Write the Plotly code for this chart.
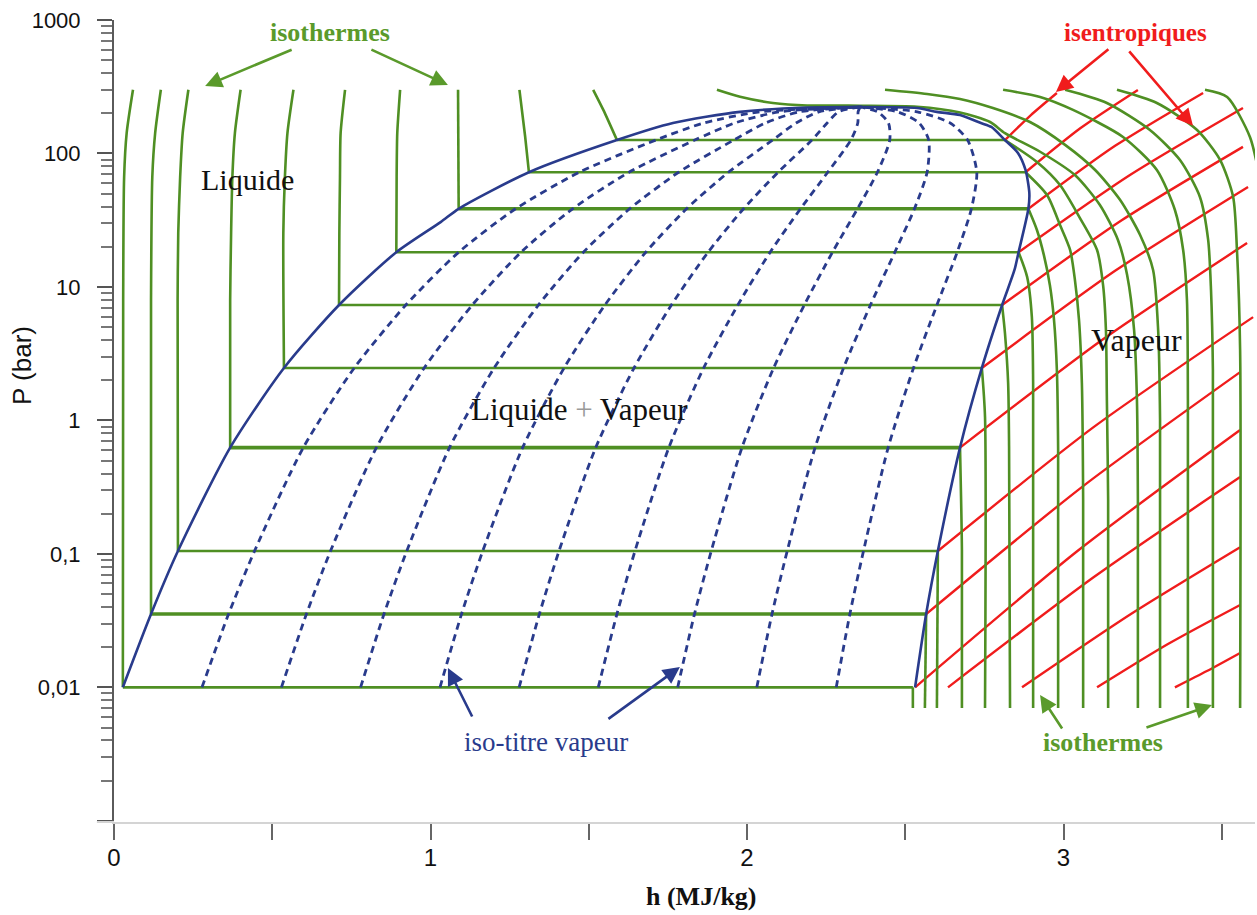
import numpy as np
import plotly.graph_objects as go

GREEN = "#4f8f23"
BLUE = "#293b8c"
RED = "#f01c1c"
SERIF = "Liberation Serif"
SANS = "Liberation Sans"

# ---------------- data (h in MJ/kg, P in bar) ----------------
dome_liq_h = [0.028, 0.117, 0.202, 0.367, 0.537, 0.711, 0.892, 1.032, 1.089, 1.311, 1.589, 1.766, 1.978, 2.190, 2.357]
dome_liq_P = [0.01, 0.0354, 0.105, 0.625, 2.47, 7.32, 18.2, 30.6, 38.5, 72.3, 126, 169, 205, 221, 223]
dome_vap_h = [2.357, 2.537, 2.600, 2.673, 2.739, 2.772, 2.815, 2.856, 2.880, 2.892, 2.889, 2.858, 2.845, 2.806, 2.742, 2.673, 2.603, 2.566, 2.531]
dome_vap_P = [223, 219, 205, 194, 169, 158, 126, 101, 75.2, 50.6, 38.5, 18.2, 13.4, 7.32, 2.47, 0.625, 0.105, 0.0354, 0.01]

plateau_P = [0.01, 0.0354, 0.105, 0.625, 2.47, 7.32, 18.2, 38.5, 72.3, 126]
plateau_hf = [0.028, 0.117, 0.202, 0.367, 0.537, 0.711, 0.892, 1.089, 1.311, 1.589]
plateau_hg = [2.524, 2.566, 2.603, 2.673, 2.742, 2.806, 2.858, 2.889, 2.880, 2.815]

quality_P = [0.01, 0.0354, 0.105, 0.625, 2.47, 7.32, 18.2, 38.5, 72.3, 126, 169, 205, 223]
quality_h = [
    [0.278, 0.362, 0.444, 0.598, 0.759, 0.922, 1.089, 1.269, 1.470, 1.712, 1.863, 2.040, 2.357],
    [0.529, 0.608, 0.684, 0.829, 0.980, 1.132, 1.286, 1.449, 1.627, 1.835, 1.961, 2.102, 2.357],
    [0.779, 0.853, 0.925, 1.060, 1.201, 1.341, 1.483, 1.629, 1.784, 1.958, 2.058, 2.165, 2.357],
    [1.030, 1.098, 1.165, 1.291, 1.422, 1.551, 1.680, 1.809, 1.941, 2.081, 2.155, 2.227, 2.357],
    [1.280, 1.344, 1.406, 1.522, 1.643, 1.761, 1.877, 1.989, 2.098, 2.205, 2.253, 2.289, 2.357],
    [1.530, 1.589, 1.646, 1.753, 1.863, 1.971, 2.073, 2.169, 2.255, 2.328, 2.350, 2.351, 2.357],
    [1.781, 1.834, 1.887, 1.984, 2.084, 2.181, 2.270, 2.349, 2.412, 2.451, 2.447, 2.413, 2.357],
    [2.031, 2.079, 2.127, 2.215, 2.305, 2.390, 2.467, 2.529, 2.569, 2.574, 2.544, 2.476, 2.357],
    [2.282, 2.325, 2.368, 2.446, 2.526, 2.600, 2.664, 2.709, 2.726, 2.697, 2.642, 2.538, 2.357],
]

liq_iso_h = [
    [0.060, 0.040, 0.032, 0.029, 0.028],
    [0.148, 0.130, 0.121, 0.117, 0.117],
    [0.235, 0.217, 0.209, 0.203, 0.201, 0.202],
    [0.400, 0.382, 0.374, 0.370, 0.367, 0.367],
    [0.567, 0.548, 0.540, 0.535, 0.537],
    [0.730, 0.716, 0.714, 0.712, 0.711],
    [0.904, 0.895, 0.893, 0.892],
    [1.087, 1.089],
    [1.281, 1.299, 1.311],
    [1.514, 1.546, 1.589],
]
liq_iso_P = [
    [300, 142, 66.6, 7.98, 0.01],
    [300, 142, 66.6, 7.98, 0.0354],
    [300, 142, 66.6, 25.4, 7.98, 0.105],
    [300, 142, 66.6, 25.4, 7.98, 0.625],
    [300, 142, 66.6, 25.4, 2.47],
    [300, 142, 66.6, 25.4, 7.32],
    [300, 142, 66.6, 18.2],
    [300, 38.5],
    [300, 134, 72.3],
    [300, 212, 126],
]

vap_iso_h = [
    [2.524, 2.524],
    [2.566, 2.562],
    [2.603, 2.600],
    [2.673, 2.679, 2.679],
    [2.742, 2.752, 2.752],
    [2.806, 2.815, 2.825, 2.828, 2.831],
    [2.858, 2.885, 2.900, 2.904, 2.904],
    [2.889, 2.916, 2.938, 2.957, 2.970, 2.979, 2.983, 2.983],
    [2.880, 2.948, 2.989, 3.021, 3.036, 3.049, 3.058, 3.062, 3.062],
    [2.815, 2.916, 2.989, 3.052, 3.106, 3.125, 3.134, 3.137, 3.141, 3.141],
]
vap_iso_P = [
    [0.01, 0.007],
    [0.0354, 0.007],
    [0.105, 0.007],
    [0.625, 0.107, 0.007],
    [2.47, 1.06, 0.007],
    [7.32, 4.51, 1.91, 0.631, 0.007],
    [18.2, 11.9, 5.94, 1.91, 0.007],
    [38.5, 26.7, 17.3, 10.3, 5.65, 2.39, 0.6, 0.007],
    [72.3, 48.8, 29.1, 18.9, 11.3, 5.65, 1.91, 0.253, 0.007],
    [126, 86.3, 58.0, 32.8, 18.9, 10.3, 4.75, 1.42, 0.253, 0.007],
]

sup_iso_h = [
    [1.905, 1.978, 2.082, 2.190, 2.357, 2.537, 2.673, 2.768, 2.815, 2.926, 3.036, 3.115, 3.172, 3.201, 3.223, 3.232, 3.235, 3.235],
    [2.436, 2.569, 2.673, 2.777, 2.894, 3.005, 3.100, 3.179, 3.242, 3.283, 3.299, 3.305, 3.305],
    [2.809, 2.926, 3.030, 3.188, 3.295, 3.352, 3.378, 3.390, 3.393, 3.393],
    [3.005, 3.137, 3.273, 3.368, 3.431, 3.457, 3.466, 3.472, 3.472],
    [3.169, 3.295, 3.422, 3.495, 3.536, 3.548, 3.558, 3.558],
    [3.447, 3.517, 3.589, 3.615],
]
sup_iso_P = [
    [300, 266, 239, 229, 228, 224, 203, 172, 142, 103, 68.9, 41.1, 22.5, 12.3, 4.75, 1.42, 0.253, 0.007],
    [300, 279, 256, 219, 172, 116, 75.2, 44.8, 24.5, 13.4, 4.75, 1.01, 0.007],
    [300, 265, 212, 133, 75.2, 37.7, 18.9, 7.98, 1.42, 0.007],
    [300, 239, 150, 89.3, 47.2, 22.5, 9.48, 2.39, 0.007],
    [300, 239, 150, 89.3, 47.2, 18.9, 3.36, 0.007],
    [300, 265, 133, 75],
]

isentrope_h = [
    [2.815, 2.897, 2.979],
    [2.880, 3.054, 3.235],
    [2.889, 3.163, 3.441],
    [2.858, 3.210, 3.567],
    [2.806, 3.185, 3.567],
    [2.742, 3.163, 3.583],
    [2.673, 3.126, 3.580],
    [2.603, 3.095, 3.599],
    [2.566, 3.062, 3.558],
    [2.531, 3.044, 3.558],
    [2.635, 3.096, 3.558],
    [2.869, 3.213, 3.558],
    [3.106, 3.330, 3.558],
    [3.352, 3.453, 3.558],
]
isentrope_P = [
    [126, 194, 284],
    [72.3, 155, 299],
    [38.5, 114, 284],
    [18.2, 68.9, 219],
    [7.32, 31.7, 112],
    [2.47, 13.2, 56.1],
    [0.625, 4.07, 21.3],
    [0.105, 0.89, 5.94],
    [0.0354, 0.322, 2.30],
    [0.01, 0.105, 0.847],
    [0.01, 0.067, 0.376],
    [0.01, 0.0354, 0.112],
    [0.01, 0.0211, 0.0414],
    [0.01, 0.01325, 0.0181],
]

x_tick_vals = [0, 0.5, 1, 1.5, 2, 2.5, 3, 3.5]
x_tick_text = ["0", "", "1", "", "2", "", "3", ""]
y_tick_vals = [0.001, 0.01, 0.1, 1, 10, 100, 1000]
y_tick_text = ["", "0,01", "0,1", "1", "10", "100", "1000"]

# ---------------- figure ----------------
fig = go.Figure()


def add_line(h, p, color, width, dash="solid", spline=True):
    fig.add_trace(go.Scatter(
        x=h, y=p, mode="lines", hoverinfo="skip", showlegend=False,
        line=dict(color=color, width=width, dash=dash,
                  shape="spline" if spline else "linear", smoothing=0.7),
    ))


# isentropes (red)
for h, p in zip(isentrope_h, isentrope_P):
    add_line(h, p, RED, 2.4)

# liquid isotherms
for h, p in zip(liq_iso_h, liq_iso_P):
    add_line(h, p, GREEN, 2.6)
# vapour isotherms
for h, p in zip(vap_iso_h, vap_iso_P):
    add_line(h, p, GREEN, 2.6)
# supercritical isotherms
for h, p in zip(sup_iso_h, sup_iso_P):
    add_line(h, p, GREEN, 2.6)
# two-phase plateaus
thick = {1, 3, 7}
for i, (p, hf, hg) in enumerate(zip(plateau_P, plateau_hf, plateau_hg)):
    add_line([hf, hg], [p, p], GREEN, 3.6 if i in thick else 2.6, spline=False)

# iso-quality lines
for h in quality_h:
    add_line(h, quality_P, BLUE, 2.8, dash="7px,5px")

# saturation dome
add_line(dome_liq_h + dome_vap_h[1:], dome_liq_P + dome_vap_P[1:], BLUE, 2.6)


def L(p):
    return float(np.log10(p))


annotations = []


def text(x, p, s, color, size, bold=False, family=SERIF):
    annotations.append(dict(x=x, y=L(p), xref="x", yref="y", text=("<b>%s</b>" % s) if bold else s,
                            xanchor="center", yanchor="middle",
                            showarrow=False, font=dict(family=family, size=size, color=color)))


def arrow(x, p, ax, ay, color):
    annotations.append(dict(x=x, y=L(p), xref="x", yref="y", ax=ax, ay=ay, text="",
                            showarrow=True, arrowhead=2, arrowsize=1.3, arrowwidth=2.6,
                            arrowcolor=color))


text(0.682, 800, "isothermes", "#5a9a2b", 26, bold=True)
text(3.226, 800, "isentropiques", RED, 25, bold=True)
text(0.423, 63.3, "Liquide", "#111111", 30)
text(1.472, 1.20, 'Liquide <span style="color:#9a9a9a">+</span> Vapeur', "#111111", 31)
text(3.232, 4.0, "Vapeur", "#111111", 32)
text(1.365, 0.00389, "iso-titre vapeur", BLUE, 27)
text(3.125, 0.00389, "isothermes", "#5a9a2b", 26, bold=True)

arrow(0.288, 320, 88, -37, "#5a9a2b")
arrow(1.055, 326, -78, -36, "#5a9a2b")
arrow(2.976, 289, 54, -44, RED)
arrow(3.409, 161, -65, -76, RED)
arrow(1.055, 0.01395, 25, 50, BLUE)
arrow(1.788, 0.0142, -73, 53, BLUE)
arrow(2.926, 0.00875, 23, 35, "#5a9a2b")
arrow(3.469, 0.00737, -67, 23, "#5a9a2b")

annotations.append(dict(x=-0.0806, y=0.5686, xref="paper", yref="paper", text="P (bar)",
                        xanchor="center", yanchor="middle",
                        textangle=-90, showarrow=False,
                        font=dict(family=SANS, size=26, color="#111111")))
annotations.append(dict(x=0.5153, y=-0.0935, xref="paper", yref="paper", text="<b>h (MJ/kg)</b>",
                        xanchor="center", yanchor="middle",
                        showarrow=False, font=dict(family=SERIF, size=26, color="#111111")))

minor_vals = [m * 10.0 ** e for e in range(-3, 3) for m in range(2, 10)]

fig.update_layout(
    width=1257, height=915,
    margin=dict(l=114, r=2, t=20, b=93),
    paper_bgcolor="white", plot_bgcolor="white",
    hovermode=False,
    annotations=annotations,
    shapes=[dict(type="line", xref="paper", yref="paper", x0=-0.015, x1=0, y0=0, y1=0,
                 line=dict(color="#d4d4d4", width=2))],
    xaxis=dict(range=[0, 3.605], showgrid=False, zeroline=False, showline=True,
               linecolor="#d4d4d4", linewidth=2, ticks="outside", ticklen=16, tickwidth=2,
               tickcolor="#666666", tickvals=x_tick_vals, ticktext=x_tick_text,
               ticklabelstandoff=-3,
               tickfont=dict(family=SANS, size=24, color="#111111")),
    yaxis=dict(type="log", range=[-3.009, 3.0], showgrid=False, zeroline=False, showline=True,
               linecolor="#5a5a5a", linewidth=2, ticks="outside", ticklen=15, tickwidth=2,
               tickcolor="#555555", tickvals=y_tick_vals, ticktext=y_tick_text,
               ticklabelstandoff=12,
               tickfont=dict(family=SANS, size=22, color="#111111"),
               minor=dict(tickvals=minor_vals, ticks="outside", ticklen=11, tickwidth=2,
                          tickcolor="#777777", showgrid=False)),
)

fig.write_html("out.html", include_plotlyjs=True, config={"displayModeBar": False},
               post_script="document.body.style.margin='0';")
